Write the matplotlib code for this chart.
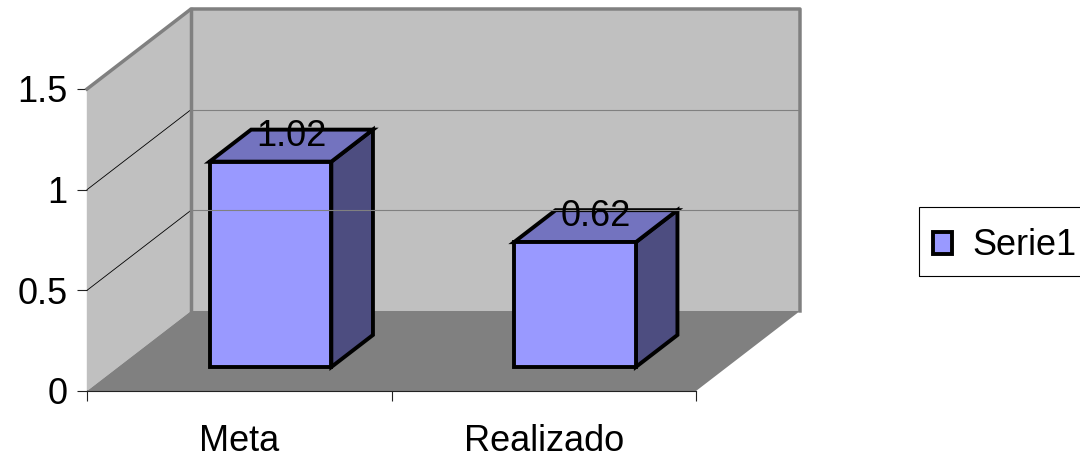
import matplotlib
matplotlib.use("Agg")
import matplotlib.pyplot as plt
from matplotlib.patches import Polygon, Rectangle

categories = ["Meta", "Realizado"]
values = [1.02, 0.62]
y_ticks = [0, 0.5, 1, 1.5]
y_tick_labels = ["0", "0.5", "1", "1.5"]
series_name = "Serie1"

plt.rcParams["font.family"] = ["Liberation Sans", "DejaVu Sans"]

W, H = 1080, 459
FRONT = "#9999FF"
TOP = "#7373BF"
SIDE = "#4D4D80"
WALL = "#C0C0C0"
FLOOR = "#808080"
EDGE_GRAY = "#808080"

fig = plt.figure(figsize=(W / 100, H / 100), dpi=100)
# axes covers the front plane of the 3d box; depth is drawn by oblique offset
ax = fig.add_axes([87 / W, (H - 391) / H, 609 / W, 302 / H])
ax.set_xlim(0, len(categories))
ax.set_ylim(0, 1.5)
ax.patch.set_visible(False)

# full depth offset, in data units
DX = 104 / 304.5
DY = 80 / 201.3


def proj(x, v, d):
    return (x + d * DX, v + d * DY)


def face(points, color, **kw):
    poly = Polygon([proj(*p) for p in points], closed=True, facecolor=color,
                   clip_on=False, **kw)
    ax.add_patch(poly)


def line(points, color, lw):
    xs, ys = zip(*[proj(*p) for p in points])
    ax.plot(xs, ys, color=color, lw=lw, clip_on=False, solid_capstyle="projecting")


n = len(categories)
top = y_ticks[-1]

# walls and floor
face([(0, 0, 1), (n, 0, 1), (n, top, 1), (0, top, 1)], WALL, edgecolor="none")
face([(0, 0, 0), (0, 0, 1), (0, top, 1), (0, top, 0)], WALL, edgecolor="none")
face([(0, 0, 0), (n, 0, 0), (n, 0, 1), (0, 0, 1)], FLOOR, edgecolor="none")

for v in y_ticks[1:-1]:
    line([(0, v, 1), (n, v, 1)], EDGE_GRAY, 0.8)
    line([(0, v, 0), (0, v, 1)], "black", 0.6)

line([(0, top, 0), (0, top, 1), (n, top, 1), (n, 0, 1)], EDGE_GRAY, 2.5)
line([(0, top, 1), (0, 0, 1)], EDGE_GRAY, 2.5)

# bars as boxes
d0, d1 = 0.3, 0.7
for i, v in enumerate(values):
    x0, x1 = i + 0.3, i + 0.7
    kw = dict(edgecolor="black", lw=2.8, joinstyle="miter")
    face([(x1, 0, d0), (x1, 0, d1), (x1, v, d1), (x1, v, d0)], SIDE, **kw)
    face([(x0, v, d0), (x1, v, d0), (x1, v, d1), (x0, v, d1)], TOP, **kw)
    face([(x0, 0, d0), (x1, 0, d0), (x1, v, d0), (x0, v, d0)], FRONT, **kw)
    tx, ty = proj(i + 0.5, v, 0.5)
    ax.text(tx, ty, f"{v:.2f}", ha="center", va="baseline", fontsize=26,
            clip_on=False)

# axes, ticks
for s in ["top", "right"]:
    ax.spines[s].set_visible(False)
for s in ["left", "bottom"]:
    ax.spines[s].set_linewidth(0.8)
    ax.spines[s].set_color("#222222")
ax.spines["left"].set_zorder(0.5)

ax.set_yticks(y_ticks, y_tick_labels)
ax.tick_params(axis="y", length=7.2, width=0.8, pad=7, labelsize=26,
               color="#222222")
ax.set_xticks(range(n + 1), [""] * (n + 1))
ax.tick_params(axis="x", which="major", length=7.2, width=0.8, color="#222222")
ax.set_xticks([i + 0.5 for i in range(n)], categories, minor=True)
ax.tick_params(axis="x", which="minor", length=0, pad=24, labelsize=26)

# legend box
fig.add_artist(Rectangle((919 / W, 183 / H), 200 / W, 69 / H, fill=False,
                         edgecolor="black", lw=0.8, transform=fig.transFigure))
fig.add_artist(Rectangle((933 / W, 205 / H), 19 / W, 22 / H, facecolor=FRONT,
                         edgecolor="black", lw=2.8, transform=fig.transFigure))
fig.text(972 / W, 204 / H, series_name, fontsize=26, va="baseline")

fig.savefig("out.png", dpi=100)
